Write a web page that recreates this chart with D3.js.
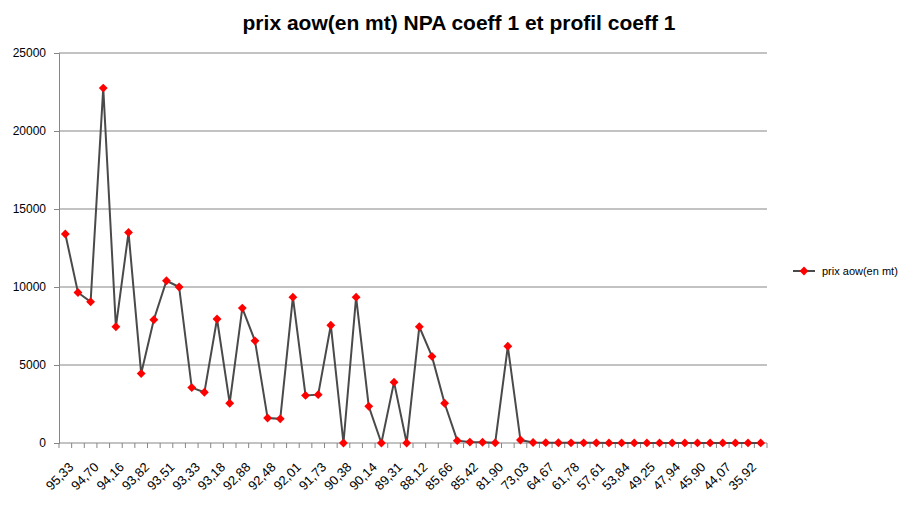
<!DOCTYPE html>
<html>
<head>
<meta charset="utf-8">
<script src="https://cdn.jsdelivr.net/npm/d3@7"></script>
<style>
  body { margin: 0; background: #fff; }
  text { font-family: "Liberation Sans", Arial, sans-serif; }
</style>
</head>
<body>
<div id="chart"></div>
<script>
// values, one per category (56 points)
const prixValues = [
    13400, 9650, 9050, 22750, 7450, 13500, 4450, 7900, 10400, 10000,
    3550, 3250, 7950, 2550, 8650, 6550, 1600, 1550, 9350, 3050,
    3100, 7550, 0, 9350, 2350, 0, 3900, 0, 7450, 5550,
    2550, 150, 60, 50, 10, 6200, 190, 30, 20, 15,
    10, 10, 10, 5, 5, 5, 5, 5, 5, 5,
    5, 5, 5, 5, 5, 5
];

// only every other category is labelled on the axis
const tickLabels = [
    '95,33', '94,70', '94,16', '93,82', '93,51', '93,33', '93,18',
    '92,88', '92,48', '92,01', '91,73', '90,38', '90,14', '89,31',
    '88,12', '85,66', '85,42', '81,90', '73,03', '64,67', '61,78',
    '57,61', '53,84', '49,25', '47,94', '45,90', '44,07', '35,92'
];

const yTicks = [0, 5000, 10000, 15000, 20000, 25000];
const seriesName = 'prix aow(en mt)';
const chartTitle = 'prix aow(en mt) NPA coeff 1 et profil coeff 1';

const width = 915;
const height = 525;
const plotLeft = 59, plotRight = 767, plotTop = 53, plotBottom = 443;
const gridColour = '#868686';

const svg = d3.select('#chart')
    .append('svg')
        .attr('width', width)
        .attr('height', height);

const xScale = d3.scaleBand()
    .domain(d3.range(prixValues.length))
    .range([plotLeft, plotRight]);

const yScale = d3.scaleLinear()
    .domain([0, 25000])
    .range([plotBottom, plotTop]);

// title
svg.append('text')
    .attr('x', 459)
    .attr('y', 30)
    .attr('text-anchor', 'middle')
    .attr('font-size', '21px')
    .attr('font-weight', 'bold')
    .text(chartTitle);

// gridlines
svg.append('g')
    .selectAll('line')
    .data(yTicks.filter(d => d > 0))
    .enter()
        .append('line')
            .attr('x1', plotLeft)
            .attr('x2', plotRight)
            .attr('y1', d => yScale(d))
            .attr('y2', d => yScale(d))
            .attr('stroke', gridColour)
            .attr('stroke-width', 1);

// y-axis
const yAxis = svg.append('g')
    .attr('transform', `translate(${plotLeft}, 0)`)
    .call(d3.axisLeft(yScale).tickValues(yTicks).tickFormat(d3.format('d')).tickSize(5).tickPadding(8));
yAxis.select('.domain').attr('stroke', gridColour);
yAxis.selectAll('.tick line').attr('stroke', gridColour);
yAxis.selectAll('.tick text')
    .attr('font-size', '12px')
    .attr('font-family', '"Liberation Sans", Arial, sans-serif')
    .attr('fill', '#000');

// x-axis: ticks on band edges
const xAxis = svg.append('g')
    .attr('transform', `translate(0, ${plotBottom})`);
xAxis.append('line')
    .attr('x1', plotLeft)
    .attr('x2', plotRight)
    .attr('stroke', gridColour);
xAxis.selectAll('line.edge')
    .data(d3.range(prixValues.length + 1))
    .enter()
        .append('line')
            .attr('class', 'edge')
            .attr('x1', d => plotLeft + d * xScale.step())
            .attr('x2', d => plotLeft + d * xScale.step())
            .attr('y1', 0)
            .attr('y2', 5)
            .attr('stroke', gridColour);
xAxis.selectAll('text')
    .data(tickLabels)
    .enter()
        .append('text')
            .attr('text-anchor', 'end')
            .attr('font-size', '13px')
            .attr('transform', (d, i) => {
                let cx = xScale(i * 2) + xScale.bandwidth() / 2 + 9;
                return `translate(${cx}, 25) rotate(-45)`;
            })
            .text(d => d);

// line
const line = d3.line()
    .x((d, i) => xScale(i) + xScale.bandwidth() / 2)
    .y(d => yScale(d));

svg.append('path')
    .datum(prixValues)
    .attr('fill', 'none')
    .attr('stroke', '#4a4a4a')
    .attr('stroke-width', 2)
    .attr('d', line);

// diamond markers
const diamond = d3.symbol().type(d3.symbolDiamond2).size(50);
svg.append('g')
    .selectAll('path')
    .data(prixValues)
    .enter()
        .append('path')
            .attr('d', diamond)
            .attr('transform', (d, i) => `translate(${xScale(i) + xScale.bandwidth() / 2}, ${yScale(d)})`)
            .attr('fill', '#ff0000');

// legend
let legend = svg.append('g')
    .attr('transform', 'translate(793, 271)');
legend.append('line')
    .attr('x1', 0)
    .attr('x2', 22)
    .attr('stroke', '#4a4a4a')
    .attr('stroke-width', 2);
legend.append('path')
    .attr('d', diamond)
    .attr('transform', 'translate(11, 0)')
    .attr('fill', '#ff0000');
legend.append('text')
    .attr('x', 29)
    .attr('y', 4)
    .attr('font-size', '11px')
    .text(seriesName);
</script>
</body>
</html>
